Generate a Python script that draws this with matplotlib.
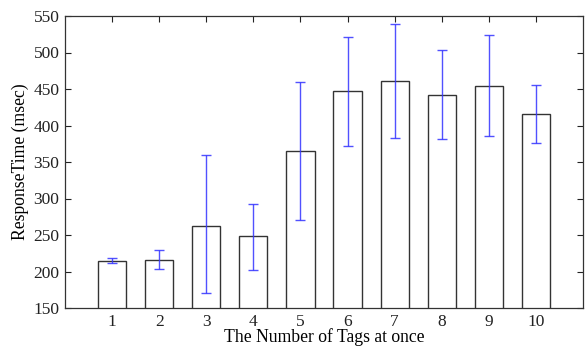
import numpy as np
import matplotlib.pyplot as plt

plt.rcParams['font.family'] = ['Liberation Serif', 'DejaVu Serif']

# number of tags read at once
tags = [1, 2, 3, 4, 5, 6, 7, 8, 9, 10]
# mean response time (msec)
mean_ms = [215, 216, 263, 248, 365, 447, 461, 442, 454, 416]
# error bar ends (msec)
upper_ms = [219, 229, 359, 292, 459, 521, 539, 503, 524, 456]
lower_ms = [212, 203, 170, 202, 271, 372, 383, 382, 385, 376]

mean = np.array(mean_ms)
yerr = [mean - np.array(lower_ms), np.array(upper_ms) - mean]

fig = plt.figure(figsize=(5.86, 3.47), dpi=100)
ax = fig.add_axes([65 / 586, 1 - 308 / 347, 518 / 586, 292 / 347])

ax.bar(tags, mean, width=0.6, bottom=0, color='white', edgecolor='#333333',
       linewidth=1.0, zorder=2)
ax.errorbar(tags, mean, yerr=yerr, fmt='none', ecolor='#3333ff',
            elinewidth=1.0, capsize=3.5, capthick=1.0, alpha=0.85, zorder=3)

ax.set_xlim(0, 11)
ax.set_ylim(150, 550)
ax.set_xticks(tags)
ax.set_yticks(np.arange(150, 551, 50))
ax.tick_params(direction='in', top=True, right=True, length=4,
               labelsize=12.5, colors='#222222', pad=4)
for s in ax.spines.values():
    s.set_color('#333333')
    s.set_linewidth(0.9)

ax.set_xlabel('The Number of Tags at once', fontsize=12.7, labelpad=-1)
ax.set_ylabel('ResponseTime (msec)', fontsize=12.7, labelpad=3)

fig.savefig('out.png', dpi=100)
